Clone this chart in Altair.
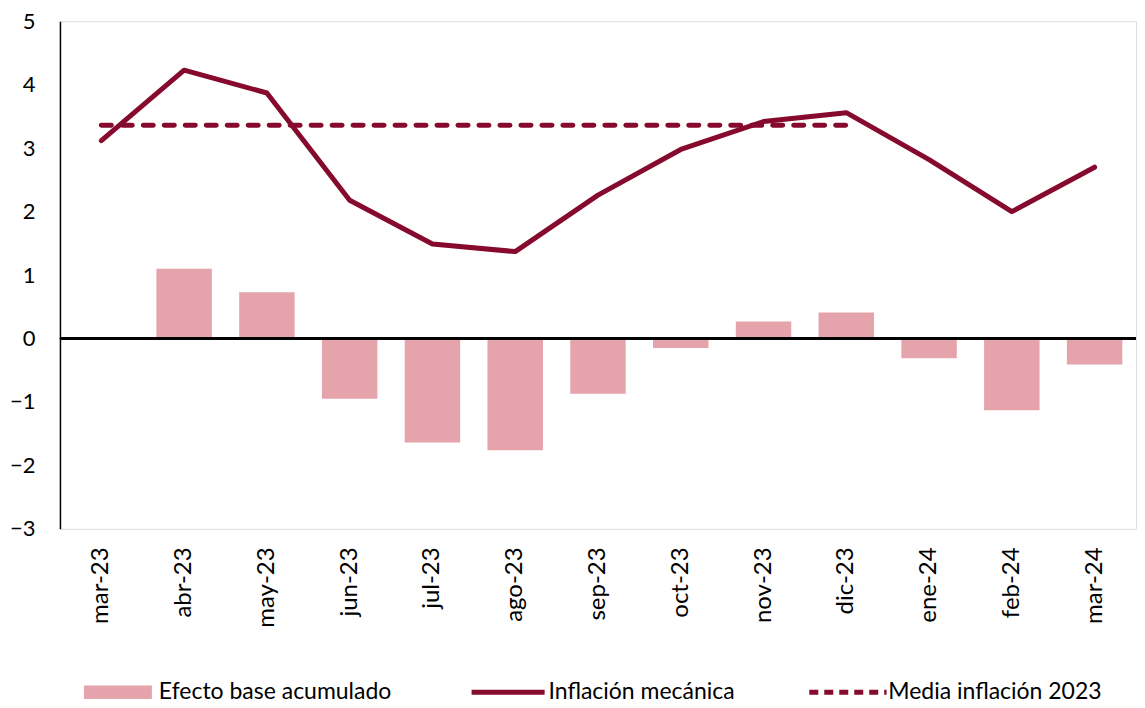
import altair as alt
import pandas as pd

months = ["mar-23", "abr-23", "may-23", "jun-23", "jul-23", "ago-23", "sep-23",
          "oct-23", "nov-23", "dic-23", "ene-24", "feb-24", "mar-24"]
efecto = [0.0, 1.10, 0.73, -0.95, -1.64, -1.76, -0.87, -0.15, 0.27, 0.41, -0.31, -1.13, -0.41]
inflacion = [3.12, 4.23, 3.87, 2.18, 1.49, 1.37, 2.26, 2.98, 3.42, 3.56, 2.82, 2.00, 2.70]
media_months = months[:10]
media_val = [3.36] * 10
y_ticks = [-3, -2, -1, 0, 1, 2, 3, 4, 5]

MAROON = "#860A2E"
PINK = "#E5A3AC"
FONT = "Lato"

df_bar = pd.DataFrame({"mes": months, "valor": efecto, "serie": "Efecto base acumulado"})
df_line = pd.DataFrame({"mes": months, "valor": inflacion, "serie": "Inflación mecánica"})
df_media = pd.DataFrame({"mes": media_months, "valor": media_val, "serie": "Media inflación 2023"})

x_enc = alt.X("mes:N", sort=months,
              scale=alt.Scale(type="band", paddingInner=0.33, paddingOuter=0.165),
              axis=alt.Axis(title=None, labelAngle=-90, domain=False, ticks=False,
                            labelPadding=18, labelFontSize=24, labelFont=FONT,
                            labelColor="black"))
y_scale = alt.Scale(domain=[-3, 5], nice=False, zero=False)
y_enc = alt.Y("valor:Q", scale=y_scale,
              axis=alt.Axis(title=None, values=y_ticks, format="d", ticks=False, grid=False,
                            domain=True, domainColor="black", domainWidth=1.5,
                            labelPadding=25, labelFontSize=22, labelFont=FONT,
                            labelColor="black"))

LEG_Y = 660
LEG_FONT = 23
SYM = 289  # symbol box 17px; custom paths extend to the right of it

bars = alt.Chart(df_bar).mark_bar().encode(
    x=x_enc, y=y_enc,
    color=alt.Color("serie:N", scale=alt.Scale(range=[PINK]),
                    legend=alt.Legend(title=None, orient="none", legendX=21, legendY=LEG_Y,
                                      symbolType="M-1,-0.8H7V0.8H-1Z", symbolSize=SYM,
                                      symbolStrokeWidth=0, labelOffset=55, padding=0,
                                      labelLimit=0,
                                      labelFontSize=LEG_FONT, labelFont=FONT, labelColor="black")),
)

zero = alt.Chart(df_bar).mark_rule(color="black", strokeWidth=1.5).encode(y=alt.datum(0))

line = alt.Chart(df_line).mark_line(strokeWidth=5, strokeCap="round", strokeJoin="round").encode(
    x=alt.X("mes:N", sort=months), y=alt.Y("valor:Q"),
    color=alt.Color("serie:N", scale=alt.Scale(range=[MAROON]),
                    legend=alt.Legend(title=None, orient="none", legendX=409, legendY=LEG_Y,
                                      symbolType="M-1,0H7.6", symbolSize=SYM,
                                      symbolFillColor="transparent",
                                      symbolStrokeWidth=5, labelOffset=57, padding=0,
                                      labelLimit=0,
                                      labelFontSize=LEG_FONT, labelFont=FONT, labelColor="black")),
)

media = alt.Chart(df_media).mark_line(strokeWidth=5, strokeCap="round", strokeDash=[10, 11]).encode(
    x=alt.X("mes:N", sort=months), y=alt.Y("valor:Q"),
    color=alt.Color("serie:N", scale=alt.Scale(range=[MAROON]),
                    legend=alt.Legend(title=None, orient="none", legendX=747, legendY=LEG_Y,
                                      symbolType="M-1,0H8.1", symbolSize=SYM,
                                      symbolFillColor="transparent",
                                      symbolStrokeWidth=5, symbolDash=[9, 6], labelOffset=59,
                                      padding=0, labelLimit=0,
                                      labelFontSize=LEG_FONT, labelFont=FONT,
                                      labelColor="black")),
)

chart = alt.layer(bars, zero, media, line).resolve_scale(color="independent").properties(
    width=1077, height=508,
    padding={"left": 1, "top": 2, "right": 0, "bottom": 0},
).configure_view(stroke=None).configure(background="white")

chart.save("out.html", embed_options={"renderer": "svg", "actions": False})
